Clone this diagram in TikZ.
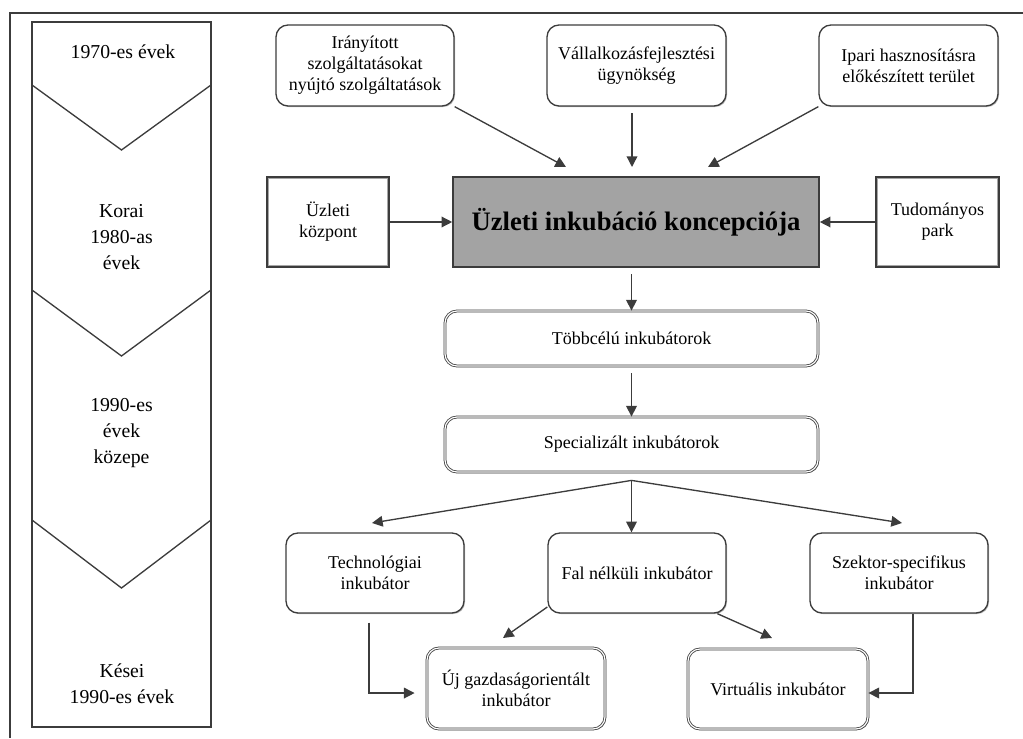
\documentclass[tikz,border=0pt]{standalone}
\usepackage{fontspec}
\setmainfont{Liberation Serif}
\usetikzlibrary{arrows.meta,positioning,shadows}
\definecolor{ln}{HTML}{3C3C3C}
\definecolor{hub}{HTML}{A3A3A3}
\newcommand{\boxfont}{\fontsize{13.5}{15.75}\selectfont}
\newcommand{\erafont}{\fontsize{14.8}{19.5}\selectfont}
\tikzset{
  shd/.style={drop shadow={shadow xshift=0.8pt,shadow yshift=-0.8pt,fill=gray!55,opacity=1}},
  rbox/.style={draw=ln,line width=1pt,rounded corners=9pt,fill=white,align=center,inner sep=3pt,font=\boxfont,shd},
  dbox/.style={rbox,double=white,double distance=0.9pt,line width=0.6pt},
  sbox/.style={rectangle,draw=ln,line width=1pt,fill=white,align=center,inner sep=3pt,font=\boxfont,shd},
  era/.style={font=\erafont,align=center},
  ar/.style={-{Triangle[length=8pt,width=8pt]},line width=1pt,draw=ln},
}
\begin{document}
\begin{tikzpicture}[x=0.75pt,y=-0.75pt]
\useasboundingbox (0,0) rectangle (1023,738);
\draw[ln,line width=1.2pt] (1023,13) -- (10,13) -- (10,738);
\draw[ln,line width=1pt] (32,22) rectangle (211,727);
\foreach \a/\b in {85/150,290/356,520/588}
  \draw[ln,line width=1pt] (32,\a) -- (121.5,\b) -- (211,\a);
\node[era] (e1) at (123,52) {1970-es évek};
\node[era] (e2) at (121.5,237) {Korai\\1980-as\\évek};
\node[era] (e3) at (121.5,433) {1990-es\\évek\\közepe};
\node[era] (e4) at (122,683.5) {Kései\\1990-es évek};

\node[rbox,minimum width=133.5pt,minimum height=60.75pt] (ira) at (365,65.5) {Irányított\\szolgáltatásokat\\nyújtó szolgáltatások};
\node[rbox,minimum width=134.25pt,minimum height=60.75pt] (vall) at (636.5,65.5) {Vállalkozásfejlesztési\\ügynökség};
\node[rbox,minimum width=134.25pt,minimum height=60.75pt] (ipari) at (908.5,65.5) {Ipari hasznosításra\\előkészített terület};
\node[draw=ln,line width=1.2pt,fill=hub,minimum width=274.5pt,minimum height=67.5pt,
  font=\fontsize{20}{24}\selectfont\bfseries,shd] (main) at (636,222) {Üzleti inkubáció koncepciója};
\node[sbox,minimum width=91.5pt,minimum height=67.5pt] (uzk) at (328,222) {Üzleti\\központ};
\node[sbox,minimum width=92.25pt,minimum height=67.5pt] (tud) at (937.5,222) {Tudományos\\park};
\foreach \n in {uzk,tud}
  \draw[gray!70,line width=0.5pt] ([shift={(1.6pt,1.6pt)}]\n.south west) rectangle ([shift={(-1.6pt,-1.6pt)}]\n.north east);
\node[dbox,minimum width=279.75pt,minimum height=41.25pt] (tobb) at (631.5,338.5) {Többcélú inkubátorok};
\node[dbox,minimum width=279.75pt,minimum height=41.25pt] (spec) at (631.5,444.5) {Specializált inkubátorok};
\node[rbox,minimum width=133.5pt,minimum height=60pt] (tech) at (375,573) {Technológiai\\inkubátor};
\node[rbox,minimum width=133.5pt,minimum height=60pt] (fal) at (637,573) {Fal nélküli inkubátor};
\node[rbox,minimum width=133.5pt,minimum height=60pt] (szek) at (899,573) {Szektor-specifikus\\inkubátor};
\node[dbox,minimum width=133.5pt,minimum height=60.75pt] (uj) at (516,688.5) {Új gazdaságorientált\\inkubátor};
\node[dbox,minimum width=135pt,minimum height=60pt] (virt) at (778,689) {Virtuális inkubátor};

\coordinate (t1) at (566,167);
\coordinate (t2) at (632,167);
\coordinate (t3) at (708,167);
\coordinate (br) at ([yshift=-6pt]spec.south);
\coordinate (tl) at (372,523);
\coordinate (tr) at (902,523);
\coordinate (t7) at (503,638);
\coordinate (t8) at (772,638);
\draw[ar] (ira.south east) -- (t1);
\draw[ar,shorten <=5pt] (vall.south -| t2) -- (t2);
\draw[ar] (ipari.south west) -- (t3);
\draw[ar] (uzk.east) -- (main.west);
\draw[ar] (tud.west) -- (main.east);
\draw[ar,shorten <=5pt] (tobb.north |- main.south) -- (tobb.north);
\draw[ar,shorten <=5pt] (tobb.south) -- (spec.north);
\draw[ar] (br) -- (tl);
\draw[ar] (br) -- (br |- fal.north);
\draw[ar] (br) -- (tr);
\draw[ar] ([yshift=5pt]fal.south west) -- (t7);
\draw[ar] ([xshift=-7pt]fal.south east) -- (t8);
\draw[ar,shorten <=6.75pt,shorten >=9pt] ([xshift=-4.5pt]tech.south) |- ([yshift=-3.4pt]uj.west);
\draw[ar] ([xshift=10.5pt]szek.south) |- ([yshift=-3pt]virt.east);
\end{tikzpicture}
\end{document}
